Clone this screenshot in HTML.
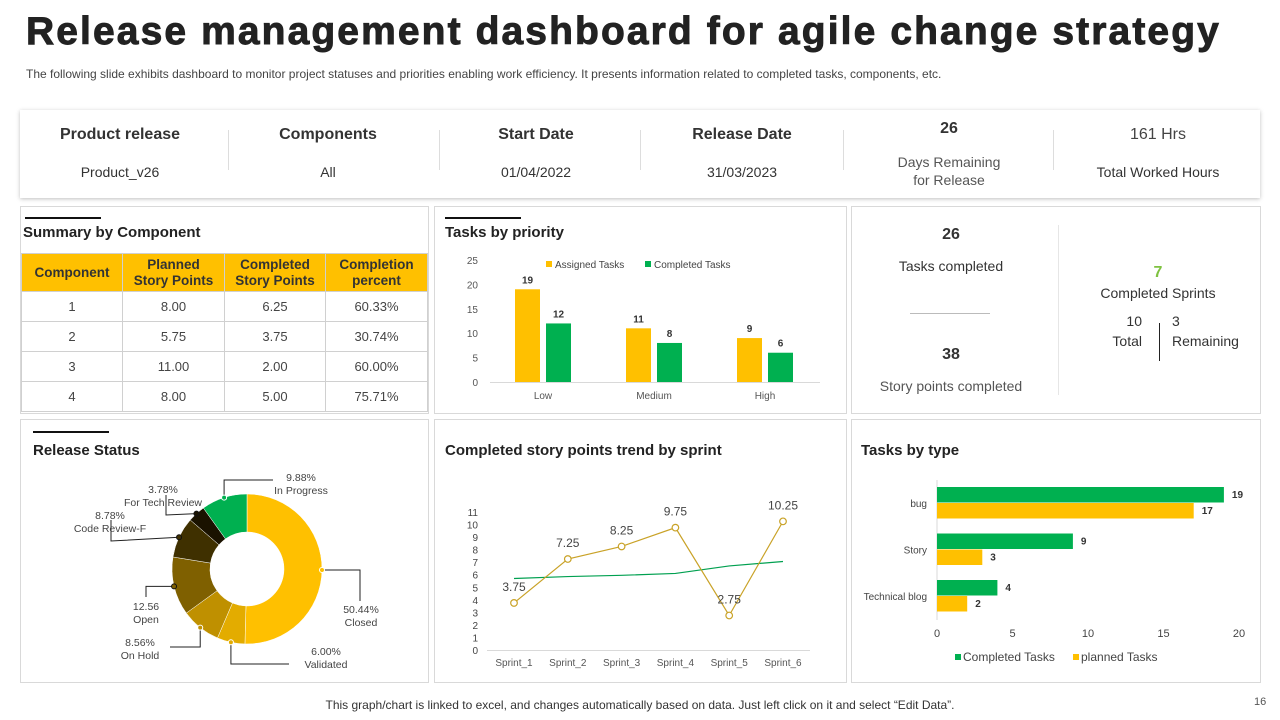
<!DOCTYPE html>
<html><head><meta charset="utf-8"><style>
body{margin:0;width:1280px;height:720px;background:#fff;font-family:"Liberation Sans",sans-serif;position:relative;overflow:hidden;color:#333}
.a{position:absolute}
.panel{position:absolute;border:1px solid #d9d9d9;background:#fff}
.c{text-align:center}
table{border-collapse:collapse;position:absolute;left:21px;top:253px;width:407px;font-size:13px;table-layout:fixed}
th{background:#FFC000;font-weight:bold;color:#333;height:37px;border:1px solid #d0d0d0;font-size:13.5px;line-height:16px;padding:0}
td{height:29px;border:1px solid #d0d0d0;text-align:center;color:#444;padding:0;line-height:14px}
.ttl{font-weight:bold;font-size:15px;color:#222}
.bar{position:absolute;height:2px;background:#111;width:76px}
</style></head><body>
<div class="a" style="left:26px;top:10px;font-size:39px;font-weight:bold;color:#222;letter-spacing:2.1px;-webkit-text-stroke:0.9px #222;white-space:nowrap">Release management dashboard for agile change strategy</div>
<div class="a" style="left:26px;top:67px;font-size:12px;color:#444;white-space:nowrap">The following slide exhibits dashboard to monitor project statuses and priorities enabling work efficiency. It presents information related to completed tasks, components, etc.</div>

<div class="a" style="left:20px;top:110px;width:1240px;height:88px;background:#fff;box-shadow:0 1px 4px rgba(0,0,0,0.25)">
 <div class="a c" style="left:0;width:200px;top:16px;font-size:16px;font-weight:bold;color:#333">Product release</div>
 <div class="a c" style="left:0;width:200px;top:54px;font-size:14px">Product_v26</div>
 <div class="a c" style="left:208px;width:200px;top:16px;font-size:16px;font-weight:bold;color:#333">Components</div>
 <div class="a c" style="left:208px;width:200px;top:54px;font-size:14px">All</div>
 <div class="a c" style="left:416px;width:200px;top:16px;font-size:16px;font-weight:bold;color:#333">Start Date</div>
 <div class="a c" style="left:416px;width:200px;top:54px;font-size:14px">01/04/2022</div>
 <div class="a c" style="left:622px;width:200px;top:16px;font-size:16px;font-weight:bold;color:#333">Release Date</div>
 <div class="a c" style="left:622px;width:200px;top:54px;font-size:14px">31/03/2023</div>
 <div class="a c" style="left:829px;width:200px;top:10px;font-size:16px;font-weight:bold;color:#333">26</div>
 <div class="a c" style="left:829px;width:200px;top:43px;font-size:14px;line-height:18px;color:#555">Days Remaining<br>for Release</div>
 <div class="a c" style="left:1038px;width:200px;top:16px;font-size:16px;color:#444">161 Hrs</div>
 <div class="a c" style="left:1038px;width:200px;top:54px;font-size:14px">Total Worked Hours</div>
 <div class="a" style="left:208px;top:20px;width:1px;height:40px;background:#ddd"></div>
 <div class="a" style="left:419px;top:20px;width:1px;height:40px;background:#ddd"></div>
 <div class="a" style="left:620px;top:20px;width:1px;height:40px;background:#ddd"></div>
 <div class="a" style="left:823px;top:20px;width:1px;height:40px;background:#ddd"></div>
 <div class="a" style="left:1033px;top:20px;width:1px;height:40px;background:#ddd"></div>
</div>

<div class="panel" style="left:20px;top:206px;width:407px;height:206px"></div>
<div class="bar" style="left:25px;top:217px"></div>
<div class="a ttl" style="left:23px;top:224px">Summary by Component</div>
<table>
<colgroup><col style="width:101px"><col style="width:102px"><col style="width:101px"><col style="width:102px"></colgroup>
<tr><th>Component</th><th>Planned<br>Story Points</th><th>Completed<br>Story Points</th><th>Completion<br>percent</th></tr>
<tr><td>1</td><td>8.00</td><td>6.25</td><td>60.33%</td></tr>
<tr><td>2</td><td>5.75</td><td>3.75</td><td>30.74%</td></tr>
<tr><td>3</td><td>11.00</td><td>2.00</td><td>60.00%</td></tr>
<tr><td>4</td><td>8.00</td><td>5.00</td><td>75.71%</td></tr>
</table>

<div class="panel" style="left:434px;top:206px;width:411px;height:206px"></div>
<div class="bar" style="left:445px;top:217px"></div>
<div class="a ttl" style="left:445px;top:224px">Tasks by priority</div>

<div class="panel" style="left:851px;top:206px;width:408px;height:206px"></div>
<div class="a c" style="left:851px;width:200px;top:226px;font-size:16px;font-weight:bold">26</div>
<div class="a c" style="left:851px;width:200px;top:258px;font-size:14px">Tasks completed</div>
<div class="a" style="left:910px;top:313px;width:80px;height:1px;background:#bbb"></div>
<div class="a c" style="left:851px;width:200px;top:346px;font-size:16px;font-weight:bold">38</div>
<div class="a c" style="left:851px;width:200px;top:378px;font-size:14px;color:#555">Story points completed</div>
<div class="a" style="left:1058px;top:225px;width:1px;height:170px;background:#e6e6e6"></div>
<div class="a c" style="left:1058px;width:200px;top:264px;font-size:16px;font-weight:bold;color:#7fc241">7</div>
<div class="a c" style="left:1058px;width:200px;top:285px;font-size:14px">Completed Sprints</div>
<div class="a" style="left:1110px;top:311px;width:32px;text-align:right;font-size:14px;line-height:20px">10<br>Total</div>
<div class="a" style="left:1159px;top:323px;width:1px;height:38px;background:#222"></div>
<div class="a" style="left:1172px;top:311px;font-size:14px;line-height:20px">3<br>Remaining</div>

<div class="panel" style="left:20px;top:419px;width:407px;height:262px"></div>
<div class="bar" style="left:33px;top:431px"></div>
<div class="a ttl" style="left:33px;top:442px">Release Status</div>

<div class="panel" style="left:434px;top:419px;width:411px;height:262px"></div>
<div class="a ttl" style="left:445px;top:442px">Completed story points trend by sprint</div>

<div class="panel" style="left:851px;top:419px;width:408px;height:262px"></div>
<div class="a ttl" style="left:861px;top:442px">Tasks by type</div>

<div class="a c" style="left:0;width:1280px;top:698px;font-size:12px;color:#333">This graph/chart is linked to excel, and changes automatically based on data. Just left click on it and select “Edit Data”.</div>
<div class="a" style="left:1254px;top:696px;font-size:11px;color:#555">16</div>

<svg id="s" class="a" style="left:0;top:0" width="1280" height="720" font-family="Liberation Sans, sans-serif"></svg>
<script>
const prCats=["Low","Medium","High"];
const prAssigned=[19,11,9];
const prCompleted=[12,8,6];
const prTicks=[0,5,10,15,20,25];
const trCats=["Sprint_1","Sprint_2","Sprint_3","Sprint_4","Sprint_5","Sprint_6"];
const trVals=[3.75,7.25,8.25,9.75,2.75,10.25];
const trTrend=[5.7,5.85,5.95,6.1,6.7,7.05];
const trTicks=[0,1,2,3,4,5,6,7,8,9,10,11];
const tyCats=["bug","Story","Technical blog"];
const tyCompleted=[19,9,4];
const tyPlanned=[17,3,2];
const tyTicks=[0,5,10,15,20];
const rsLabels=["Closed","Validated","On Hold","Open","Code Review-F","For Tech Review","In Progress"];
const rsVals=[50.44,6.00,8.56,12.56,8.78,3.78,9.88];
const rsText=["50.44%","6.00%","8.56%","12.56","8.78%","3.78%","9.88%"];
const rsColors=["#FFC000","#E3AC00","#BF9000","#7F6000","#3F3000","#1A1200","#00B050"];

const S=document.getElementById('s');const NS="http://www.w3.org/2000/svg";
function mk(t,a,txt){const e=document.createElementNS(NS,t);for(const k in a)e.setAttribute(k,a[k]);if(txt!==undefined)e.textContent=txt;S.appendChild(e);return e;}

const pY=v=>382-v*(122/25);
const pX=i=>502+i*111;
prTicks.forEach(t=>{const e=mk('text',{x:478,y:pY(t)+4,'font-size':10,fill:'#555','text-anchor':'end'},t);

});
mk('line',{x1:490,x2:820,y1:382.5,y2:382.5,stroke:'#d9d9d9'});
prCats.forEach((c,i)=>{
 const x=pX(i);
 const b1=mk('rect',{x:x+13,y:pY(prAssigned[i]),width:25,height:pY(0)-pY(prAssigned[i]),fill:'#FFC000'});
 
 
 const b2=mk('rect',{x:x+44,y:pY(prCompleted[i]),width:25,height:pY(0)-pY(prCompleted[i]),fill:'#00B050'});
 
 
 mk('text',{x:x+25.5,y:pY(prAssigned[i])-6,'font-size':10,'font-weight':'bold',fill:'#333','text-anchor':'middle'},prAssigned[i]);
 mk('text',{x:x+56.5,y:pY(prCompleted[i])-6,'font-size':10,'font-weight':'bold',fill:'#333','text-anchor':'middle'},prCompleted[i]);
 const l=mk('text',{x:x+41,y:399,'font-size':10,fill:'#555','text-anchor':'middle'},c);
 
 
});
mk('rect',{x:546,y:261,width:6,height:6,fill:'#FFC000'});
mk('text',{x:555,y:268,'font-size':10,fill:'#444'},'Assigned Tasks');
mk('rect',{x:645,y:261,width:6,height:6,fill:'#00B050'});
mk('text',{x:654,y:268,'font-size':10,fill:'#444'},'Completed Tasks');

const tY=v=>650-v*12.55;
const tX=i=>514+i*53.8;
trTicks.forEach(t=>{const e=mk('text',{x:478,y:tY(t)+4,'font-size':10,fill:'#444','text-anchor':'end'},t);

});
mk('line',{x1:487,x2:810,y1:650.5,y2:650.5,stroke:'#d9d9d9'});
trCats.forEach((c,i)=>{const e=mk('text',{x:tX(i),y:666,'font-size':10,fill:'#555','text-anchor':'middle'},c);

});
const tl=mk('polyline',{points:trTrend.map((v,i)=>tX(i)+','+tY(v)).join(' '),fill:'none',stroke:'#00A050','stroke-width':1.2});


const vl=mk('polyline',{points:trVals.map((v,i)=>tX(i)+','+tY(v)).join(' '),fill:'none',stroke:'#C9A227','stroke-width':1.2});


trVals.forEach((v,i)=>{
 const p=mk('circle',{cx:tX(i),cy:tY(v),r:3.3,fill:'#fff',stroke:'#C9A227','stroke-width':1.2});
 
 
 mk('text',{x:tX(i),y:tY(v)-12,'font-size':12,fill:'#444','text-anchor':'middle'},v);
});

const yX=v=>937+v*15.1;
const yRow=i=>487+i*46.5;
tyTicks.forEach(t=>{const e=mk('text',{x:yX(t),y:637,'font-size':11,fill:'#444','text-anchor':'middle'},t);

});
mk('line',{x1:937,x2:937,y1:480,y2:620,stroke:'#d9d9d9'});
tyCats.forEach((c,i)=>{
 const y=yRow(i);
 const b1=mk('rect',{x:937,y:y,width:yX(tyCompleted[i])-937,height:15.5,fill:'#00B050'});
 
 
 const b2=mk('rect',{x:937,y:y+16,width:yX(tyPlanned[i])-937,height:15.5,fill:'#FFC000'});
 
 
 mk('text',{x:yX(tyCompleted[i])+8,y:y+11,'font-size':10,'font-weight':'bold',fill:'#333'},tyCompleted[i]);
 mk('text',{x:yX(tyPlanned[i])+8,y:y+27,'font-size':10,'font-weight':'bold',fill:'#333'},tyPlanned[i]);
 const l=mk('text',{x:927,y:y+20,'font-size':10,fill:'#444','text-anchor':'end'},c);
 
 
});
mk('rect',{x:955,y:654,width:6,height:6,fill:'#00B050'});
mk('text',{x:963,y:661,'font-size':12,fill:'#444'},'Completed Tasks');
mk('rect',{x:1073,y:654,width:6,height:6,fill:'#FFC000'});
mk('text',{x:1081,y:661,'font-size':12,fill:'#444'},'planned Tasks');

const cx=247,cy=569,R=75,r=37;
const tot=rsVals.reduce((a,b)=>a+b,0);
let ang=0;const mids=[];
rsVals.forEach((v,i)=>{
 const a0=ang/tot*2*Math.PI, a1=(ang+v)/tot*2*Math.PI; ang+=v;
 const P=(rad,a)=>[cx+rad*Math.sin(a),cy-rad*Math.cos(a)];
 const [x0,y0]=P(R,a0),[x1,y1]=P(R,a1),[x2,y2]=P(r,a1),[x3,y3]=P(r,a0);
 const lg=(a1-a0)>Math.PI?1:0;
 const s=mk('path',{d:`M${x0},${y0}A${R},${R} 0 ${lg} 1 ${x1},${y1}L${x2},${y2}A${r},${r} 0 ${lg} 0 ${x3},${y3}Z`,fill:rsColors[i],stroke:'#fff','stroke-width':0.5});
 
 
 mids.push(P(R,(a0+a1)/2));
});
const lab=[
 {tx:361,ty:613},{tx:326,ty:655},{tx:140,ty:646},{tx:146,ty:610},
 {tx:110,ty:519},{tx:163,ty:493},{tx:301,ty:481}
];
lab.forEach((L,i)=>{
 const [mx,my]=mids[i];
 let d;
 if(i==0) d=`M${mx},${my}H360V601`;
 else if(i==1) d=`M${mx},${my}V664H289`;
 else if(i==2) d=`M${mx},${my}V647H170`;
 else if(i==3) d=`M${mx},${my}H146V597`;
 else if(i==4) d=`M${mx},${my}L111,541V520`;
 else if(i==5) d=`M${mx},${my}L166,515V495`;
 else d=`M${mx},${my}V480H273`;
 mk('path',{d:d,fill:'none',stroke:'#222','stroke-width':1});
 mk('circle',{cx:mx,cy:my,r:2.5,fill:rsColors[i],stroke:i>=3&&i<=5?'#111':'#fff','stroke-width':1});
 const t1=mk('text',{x:L.tx,y:L.ty,'font-size':10.5,fill:'#444','text-anchor':'middle'},rsText[i]);
 
 
 mk('text',{x:L.tx,y:L.ty+13,'font-size':10.5,fill:'#444','text-anchor':'middle'},rsLabels[i]);
});
</script>
</body></html>
